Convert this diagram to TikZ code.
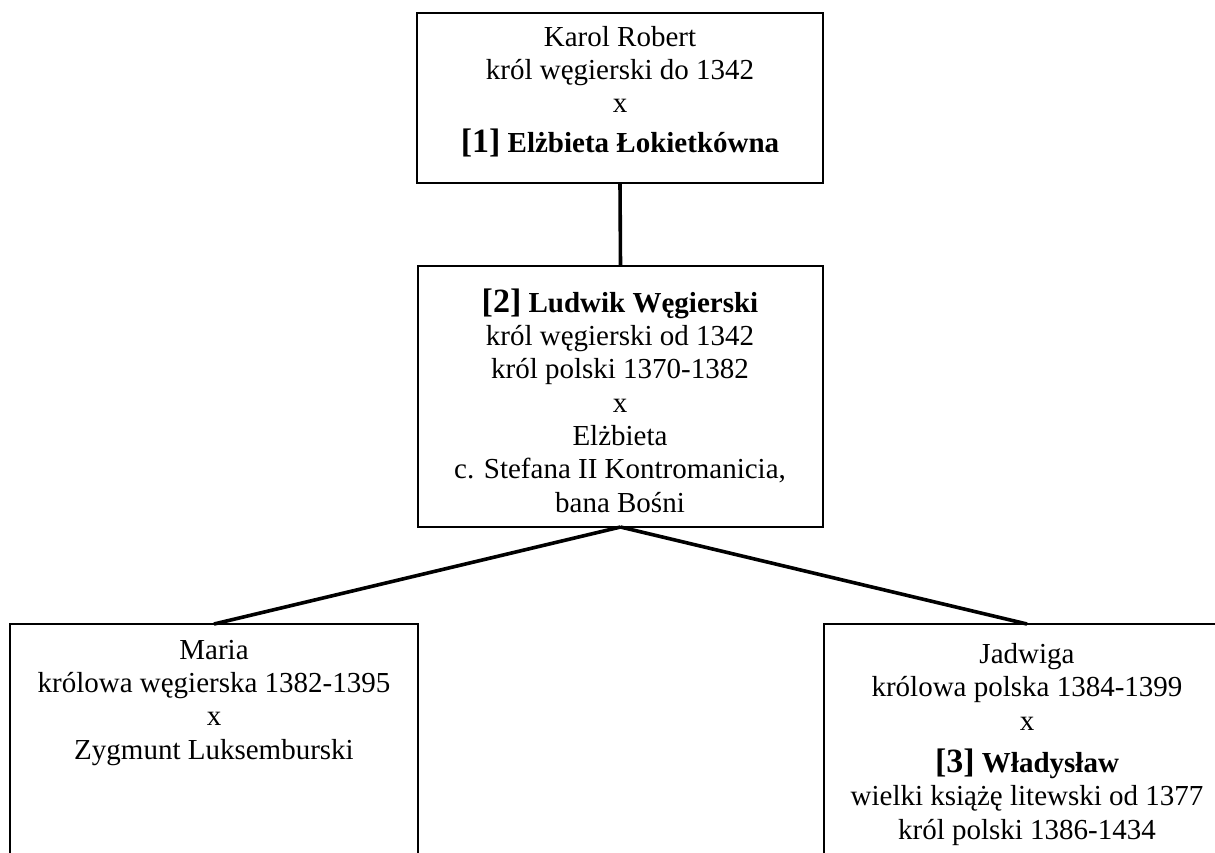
\documentclass[tikz,border=0pt]{standalone}
\usepackage{fontspec}
\setmainfont{Liberation Serif}
\begin{document}
\begin{tikzpicture}[x=1pt,y=-1pt,
  box/.style={draw=black, line width=2.4pt, rectangle, inner sep=0pt, outer sep=0pt, fill=none},
  txt/.style={align=center, inner sep=0pt, anchor=base, font=\fontsize{29}{33.3}\selectfont},
  conn/.style={draw=black, line width=3.6pt}]
\newcommand{\bignum}[1]{{\fontsize{34}{33.3}\selectfont\bfseries #1}}
\useasboundingbox (0,0) rectangle (1215,852);
\clip (0,0) rectangle (1215,852);
\fill[white] (0,0) rectangle (1215,852);
% boxes
\node[box, minimum width=406pt, minimum height=170pt, anchor=north west] (kr) at (417,13) {};
\node[box, minimum width=405pt, minimum height=261pt, anchor=north west] (lw) at (418,266) {};
\node[box, minimum width=408pt, minimum height=262pt, anchor=north west] (ma) at (10,624) {};
\node[box, minimum width=406pt, minimum height=262pt, anchor=north west] (ja) at (824,624) {};
% texts (base anchor = baseline of the last line)
\node[txt] (krt) at (620,152) {Karol Robert\\król węgierski do 1342\\x\\[6pt]\bignum{[1]} \textbf{Elżbieta Łokietkówna}};
\node[txt] (lwt) at (620,512) {\bignum{[2]} \textbf{Ludwik Węgierski}\\król węgierski od 1342\\król polski 1370-1382\\x\\Elżbieta\\c. Stefana II Kontromanicia,\\bana Bośni};
\node[txt] (mat) at (214,759) {Maria\\królowa węgierska 1382-1395\\x\\Zygmunt Luksemburski};
\node[txt] (jat) at (1027,839) {Jadwiga\\królowa polska 1384-1399\\x\\[9pt]\bignum{[3]} \textbf{Władysław}\\wielki książę litewski od 1377\\król polski 1386-1434};
% connectors
\draw[conn] (kr.south) -- (lw.north);
\draw[conn] (lw.south) -- (ma.north);
\draw[conn] (lw.south) -- (ja.north);
\end{tikzpicture}
\end{document}
